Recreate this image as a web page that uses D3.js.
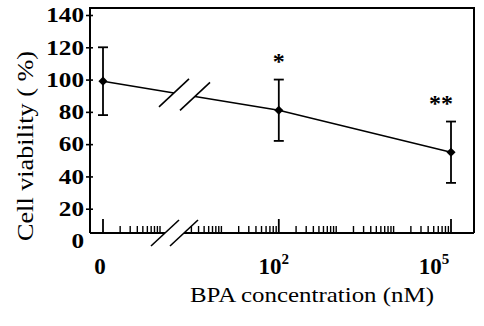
<!DOCTYPE html>
<html lang="en">
<head>
<meta charset="UTF-8">
<title>BPA cell viability</title>
<script src="https://d3js.org/d3.v7.min.js"></script>
<style>
  body { margin: 0; background: #fff; }
  svg text { font-family: "Liberation Serif", "Times New Roman", serif; fill: #000; }
</style>
</head>
<body>
<script>
// data
const doses = [0, 1e2, 1e5];        // BPA, nM
const viability = [99, 81, 55];     // mean, %
const sd = [21, 19, 19];            // error bar half-length
const marks = ["", "*", "**"];      // significance
const yTicks = [0, 20, 40, 60, 80, 100, 120, 140];

const width = 484, height = 326;
const plotLeft = 90, plotRight = 474, plotTop = 8, plotBottom = 233;

const svg = d3.select("body").append("svg")
  .attr("width", width)
  .attr("height", height);

svg.append("rect").attr("width", width).attr("height", height).attr("fill", "#fff");

const y = d3.scaleLinear().domain([0, 140]).range([241, 15]);

// broken log axis: zero group first, then 10^0 .. 10^5
const xLow = d3.scaleLog().domain([1, 10]).range([103, 160]);
const xHigh = d3.scaleLog().domain([1, 1e5]).range([164, 451]);
const x = d => d === 0 ? xLow.range()[0] : xHigh(d);

// axis break on the bottom line
const gapA = 165, gapB = 184;

// frame
const frame = svg.append("g").attr("stroke", "#000").attr("stroke-width", 2).attr("fill", "none");
frame.append("path").attr("d", `M${plotLeft},${plotBottom}V${plotTop}H${plotRight}V${plotBottom}`);
frame.append("line").attr("x1", plotLeft).attr("x2", gapA).attr("y1", plotBottom).attr("y2", plotBottom);
frame.append("line").attr("x1", gapB).attr("x2", plotRight).attr("y1", plotBottom).attr("y2", plotBottom);

// slashes for the axis break
[gapA, gapB].forEach(cx => {
  frame.append("line")
    .attr("x1", cx - 14).attr("y1", plotBottom + 13)
    .attr("x2", cx + 14).attr("y2", plotBottom - 13)
    .attr("stroke-width", 1.6);
});

// minor log ticks along the x axis (inward)
const minorLow = xLow.ticks().filter(v => v > 1);
const minorHigh = xHigh.ticks().filter(v => xHigh(v) > 188 && !doses.includes(v));
const tickG = svg.append("g").attr("stroke", "#000").attr("stroke-width", 1.4);
tickG.selectAll(".lo").data(minorLow).enter().append("line")
  .attr("x1", d => xLow(d)).attr("x2", d => xLow(d))
  .attr("y1", plotBottom).attr("y2", plotBottom - 7);
tickG.selectAll(".hi").data(minorHigh).enter().append("line")
  .attr("x1", d => xHigh(d)).attr("x2", d => xHigh(d))
  .attr("y1", plotBottom).attr("y2", plotBottom - 7);
tickG.selectAll(".major").data(doses).enter().append("line")
  .attr("x1", d => x(d)).attr("x2", d => x(d))
  .attr("y1", plotBottom).attr("y2", plotBottom - 14)
  .attr("stroke-width", 1.8);

// x tick labels
const tickDx = [-3, -5, -17];
const xl = svg.append("g");
doses.forEach((d, i) => {
  const t = xl.append("text")
    .attr("x", x(d) + tickDx[i])
    .attr("y", 274)
    .attr("text-anchor", "middle")
    .attr("font-size", 23)
    .attr("font-weight", "bold");
  if (d === 0) {
    t.text("0");
  } else {
    t.append("tspan").text("10");
    t.append("tspan").attr("font-size", 15).attr("dy", -10).text(Math.round(Math.log10(d)));
  }
});

// y axis
const yAxis = svg.append("g")
  .attr("transform", `translate(${plotLeft},0)`)
  .call(d3.axisLeft(y).tickValues(yTicks).tickSize(4).tickPadding(2));
yAxis.select(".domain").remove();
yAxis.selectAll(".tick line").attr("x1", 3).attr("stroke-width", 1.6);
yAxis.selectAll(".tick").filter(d => d === 0).select("line").remove();
yAxis.selectAll(".tick text")
  .style("font-family", "'Liberation Serif', serif")
  .attr("font-weight", "bold")
  .attr("font-size", 21)
  .attr("textLength", d => String(d).length * 12.6)
  .attr("lengthAdjust", "spacingAndGlyphs");

// titles
svg.append("text")
  .attr("x", 312).attr("y", 302)
  .attr("text-anchor", "middle")
  .attr("font-size", 22)
  .attr("textLength", 244)
  .attr("lengthAdjust", "spacingAndGlyphs")
  .text("BPA concentration (nM)");

svg.append("text")
  .attr("transform", "translate(33,146) rotate(-90)")
  .attr("text-anchor", "middle")
  .attr("font-size", 24)
  .attr("textLength", 190)
  .attr("lengthAdjust", "spacingAndGlyphs")
  .text("Cell viability ( %)");

// data line, broken between the zero group and 10^2
const pts = doses.map((d, i) => [x(d), y(viability[i])]);
const breakX = [174, 195];
const onSeg = bx => {
  const t = (bx - pts[0][0]) / (pts[1][0] - pts[0][0]);
  return [bx, pts[0][1] + t * (pts[1][1] - pts[0][1])];
};
const b1 = onSeg(breakX[0]), b2 = onSeg(breakX[1]);
const line = d3.line();
const lg = svg.append("g").attr("stroke", "#000").attr("stroke-width", 1.5).attr("fill", "none");
lg.append("path").attr("d", line([pts[0], b1]));
lg.append("path").attr("d", line([b2, pts[1], pts[2]]));
[b1, b2].forEach(p => {
  lg.append("line")
    .attr("x1", p[0] - 15).attr("y1", p[1] + 14)
    .attr("x2", p[0] + 15).attr("y2", p[1] - 14)
    .attr("stroke-width", 1.6);
});

// error bars
const eg = svg.append("g").attr("stroke", "#000").attr("stroke-width", 1.8);
doses.forEach((d, i) => {
  const cx = x(d);
  const hi = y(viability[i] + sd[i]), lo = y(viability[i] - sd[i]);
  eg.append("line").attr("x1", cx).attr("x2", cx).attr("y1", hi).attr("y2", lo);
  eg.append("line").attr("x1", cx - 5).attr("x2", cx + 5).attr("y1", hi).attr("y2", hi);
  eg.append("line").attr("x1", cx - 5).attr("x2", cx + 5).attr("y1", lo).attr("y2", lo);
});

// diamond markers
svg.selectAll(".pt").data(pts).enter().append("path")
  .attr("d", d3.symbol(d3.symbolSquare, 42))
  .attr("transform", d => `translate(${d[0]},${d[1]}) rotate(45)`)
  .attr("fill", "#000");

// significance marks
const markDx = [0, 0, -10];
svg.selectAll(".mark").data(marks).enter().append("text")
  .attr("x", (d, i) => x(doses[i]) + markDx[i])
  .attr("y", (d, i) => y(viability[i] + sd[i]) - 11)
  .attr("text-anchor", "middle")
  .attr("font-size", 24)
  .attr("font-weight", "bold")
  .text(d => d);
</script>
</body>
</html>
